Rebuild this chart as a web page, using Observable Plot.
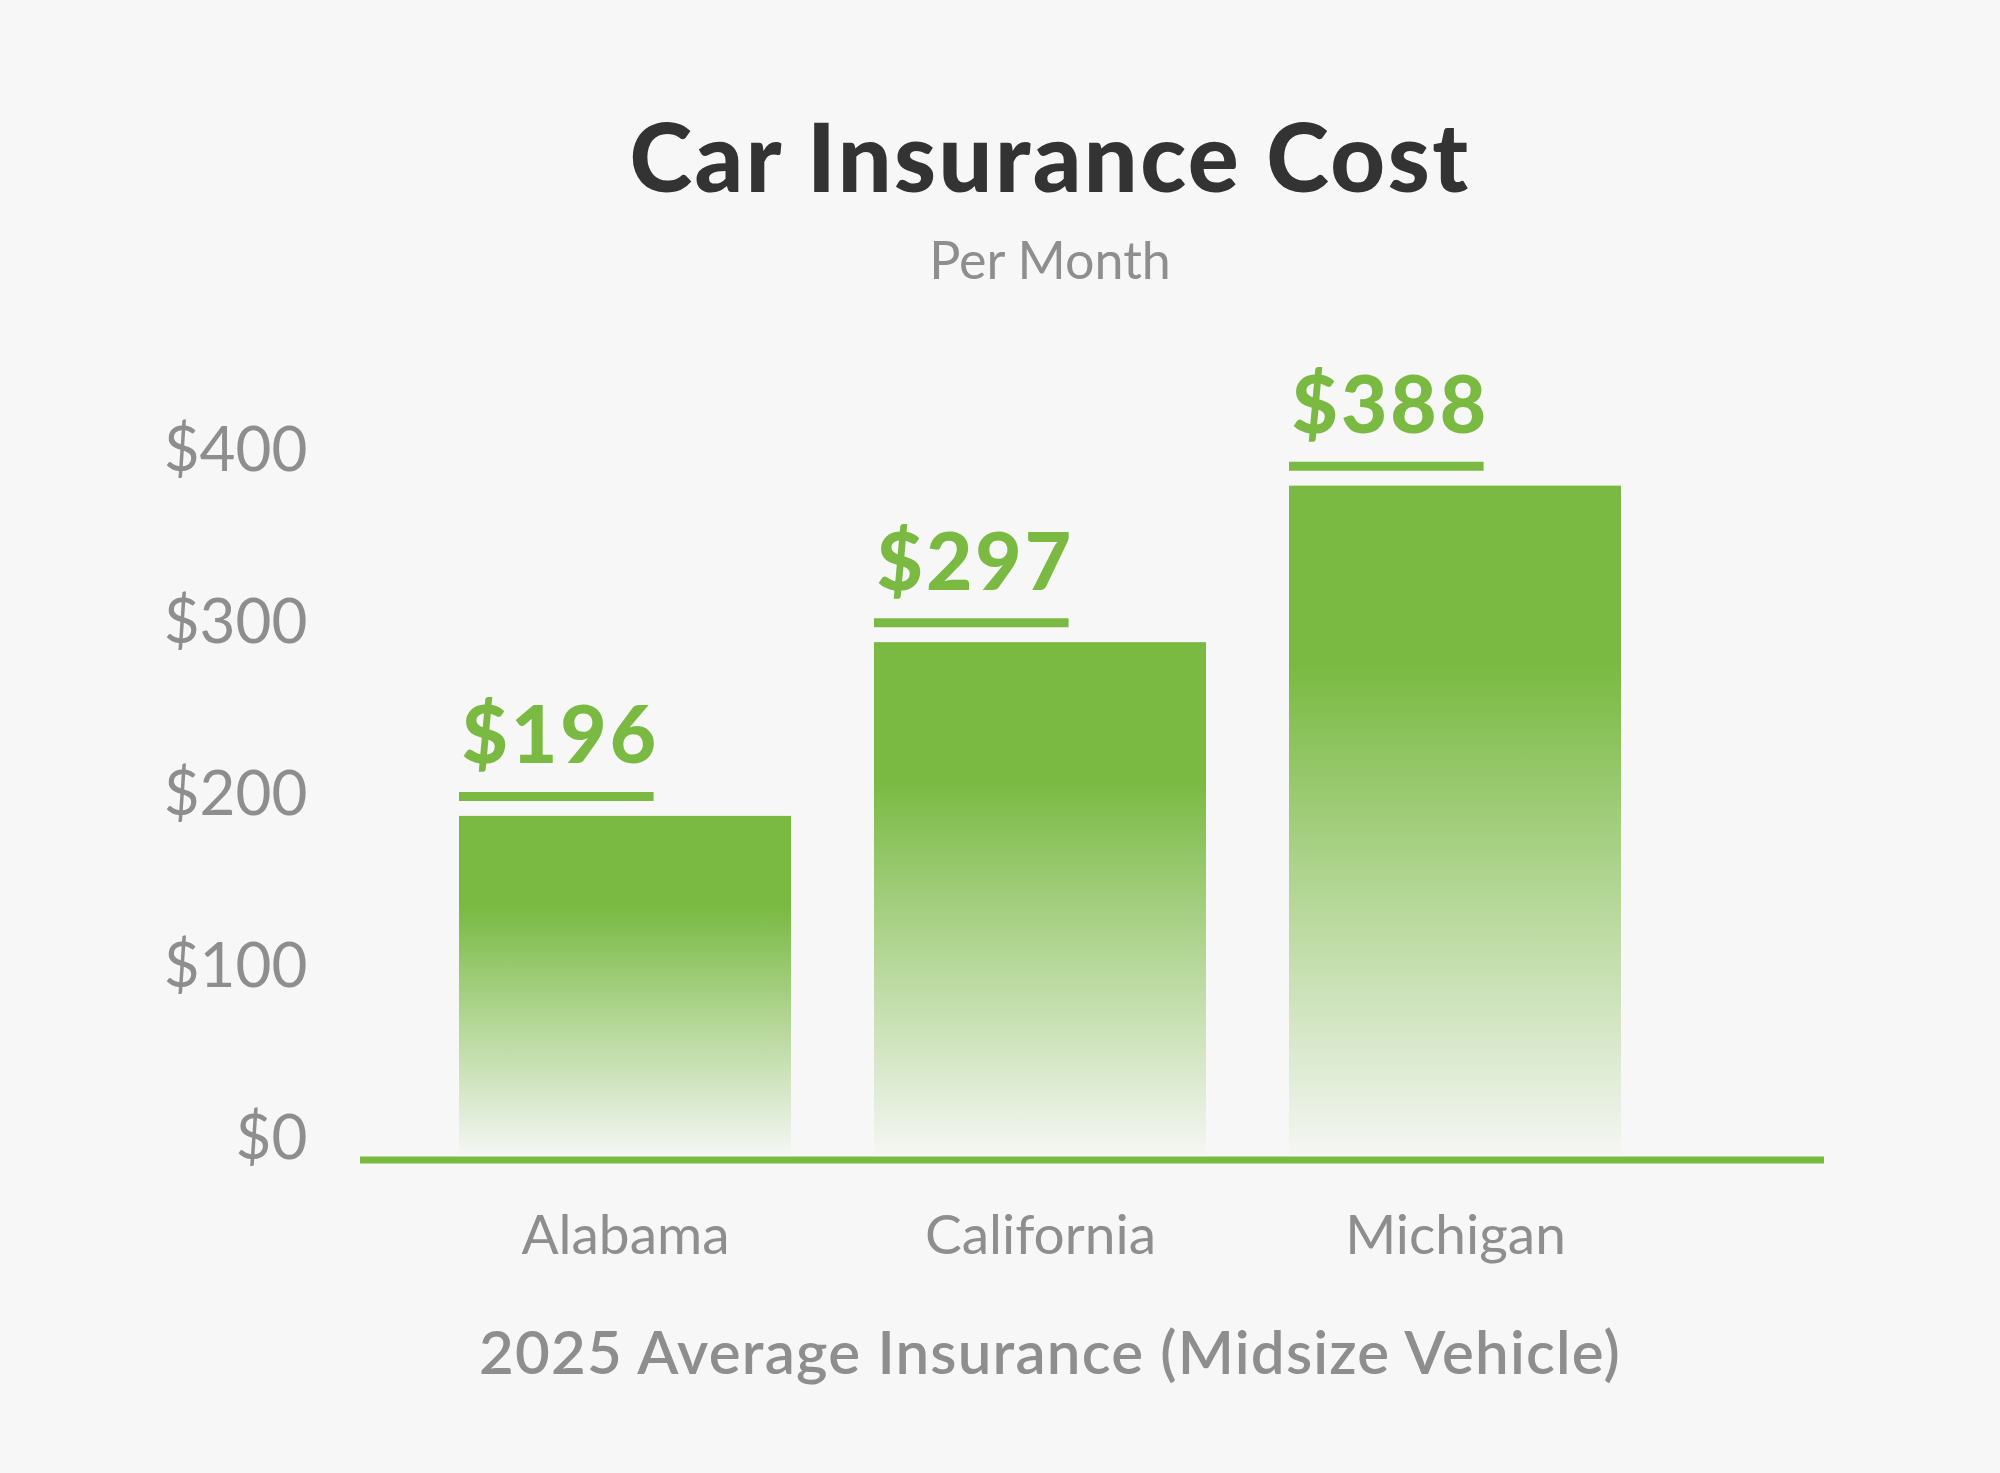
<!DOCTYPE html>
<html>
<head>
<meta charset="utf-8">
<script src="https://cdn.jsdelivr.net/npm/d3@7"></script>
<script src="https://cdn.jsdelivr.net/npm/@observablehq/plot@0.6"></script>
<style>
  html, body { margin: 0; padding: 0; background: #f7f7f7; }
  #page { position: relative; width: 2000px; height: 1473px; overflow: hidden; font-family: Lato, "Noto Sans", sans-serif; }
  .line { position: absolute; left: 100px; width: 1900px; text-align: center; line-height: 1.2; white-space: nowrap; }
  #title { top: 98px; font-size: 95px; font-weight: 900; color: #333333; letter-spacing: 2.5px; }
  #subtitle { top: 228px; font-size: 52px; font-weight: 400; color: #8e8e8e; }
  #caption { top: 1315px; font-size: 60px; font-weight: 600; color: #8e8e8e; letter-spacing: 1.2px; }
  #plot { position: absolute; left: 0; top: 300px; }
</style>
</head>
<body>
<div id="page">
  <div id="title" class="line">Car Insurance Cost</div>
  <div id="subtitle" class="line">Per Month</div>
  <div id="plot"></div>
  <div id="caption" class="line">2025 Average Insurance (Midsize Vehicle)</div>
</div>
<script>
// Average monthly premium, 2025, midsize vehicle
const states = ["Alabama", "California", "Michigan"];
const costs = [196, 297, 388];
const yTicks = [0, 100, 200, 300, 400];

const data = states.map((state, i) => ({state, cost: costs[i]}));

const green = "#7aba43";
const gray = "#8e8e8e";
const fmt = d => "$" + d;

// band layout: 415px step, bars 80% of the step
const xRange = [417.5, 1662.5];
const paddingInner = 0.2, paddingOuter = 0.1;
const step = (xRange[1] - xRange[0]) / (states.length - paddingInner + 2 * paddingOuter);
const bw = step * (1 - paddingInner);

// value labels and the short rule under each one share the label's width
const valueFontSize = 80;
const valueSpacing = 3;
const ctx = document.createElement("canvas").getContext("2d");
ctx.font = `900 ${valueFontSize}px Lato`;
ctx.letterSpacing = `${valueSpacing}px`;
const labelWidth = d => ctx.measureText(fmt(d.cost)).width - valueSpacing;

const markers = data.map(d => Plot.tickY([d], {
  x: "state",
  y: "cost",
  stroke: green,
  strokeWidth: 9,
  dy: -20,
  insetLeft: 0,
  insetRight: Math.max(0, bw - labelWidth(d))
}));

const chart = Plot.plot({
  width: 2000,
  height: 1000,
  marginLeft: 360,
  marginRight: 176,
  marginTop: 165,
  marginBottom: 147,
  style: {background: "transparent", fontFamily: "Lato, 'Noto Sans', sans-serif", overflow: "visible"},
  x: {domain: states, range: xRange, paddingInner, paddingOuter},
  y: {domain: [0, 400]},
  marks: [
    Plot.barY(data, {x: "state", y: "cost", fill: "url(#barFade)"}),
    Plot.ruleY([0], {stroke: green, strokeWidth: 7, dy: 6.5}),
    ...markers,
    Plot.text(data, {
      x: "state",
      y: "cost",
      text: d => fmt(d.cost),
      textAnchor: "start",
      lineAnchor: "bottom",
      dx: -bw / 2 + 2,
      dy: -53,
      fontSize: valueFontSize,
      fontWeight: 900,
      fill: green
    }),
    Plot.axisY({ticks: yTicks, tickSize: 0, tickPadding: 53, tickFormat: fmt, fontSize: 62, color: gray, dy: -14, label: null}),
    Plot.axisX({tickSize: 0, tickPadding: 61, fontSize: 55, color: gray, label: null})
  ]
});

const svg = d3.select(chart);

// value labels are tracked slightly wider
svg.selectAll("text")
  .filter(function() { return this.getAttribute("fill") === green || this.parentNode.getAttribute("fill") === green; })
  .style("letter-spacing", `${valueSpacing}px`);

// vertical fade for the bars: solid at the top, dissolving toward the baseline
const grad = svg.insert("defs", ":first-child")
  .append("linearGradient")
  .attr("id", "barFade")
  .attr("x1", 0).attr("y1", 0).attr("x2", 0).attr("y2", 1);
grad.append("stop").attr("offset", "0").attr("stop-color", green).attr("stop-opacity", 1);
grad.append("stop").attr("offset", "0.27").attr("stop-color", green).attr("stop-opacity", 1);
grad.append("stop").attr("offset", "1").attr("stop-color", green).attr("stop-opacity", 0.02);

document.getElementById("plot").appendChild(chart);
</script>
</body>
</html>
